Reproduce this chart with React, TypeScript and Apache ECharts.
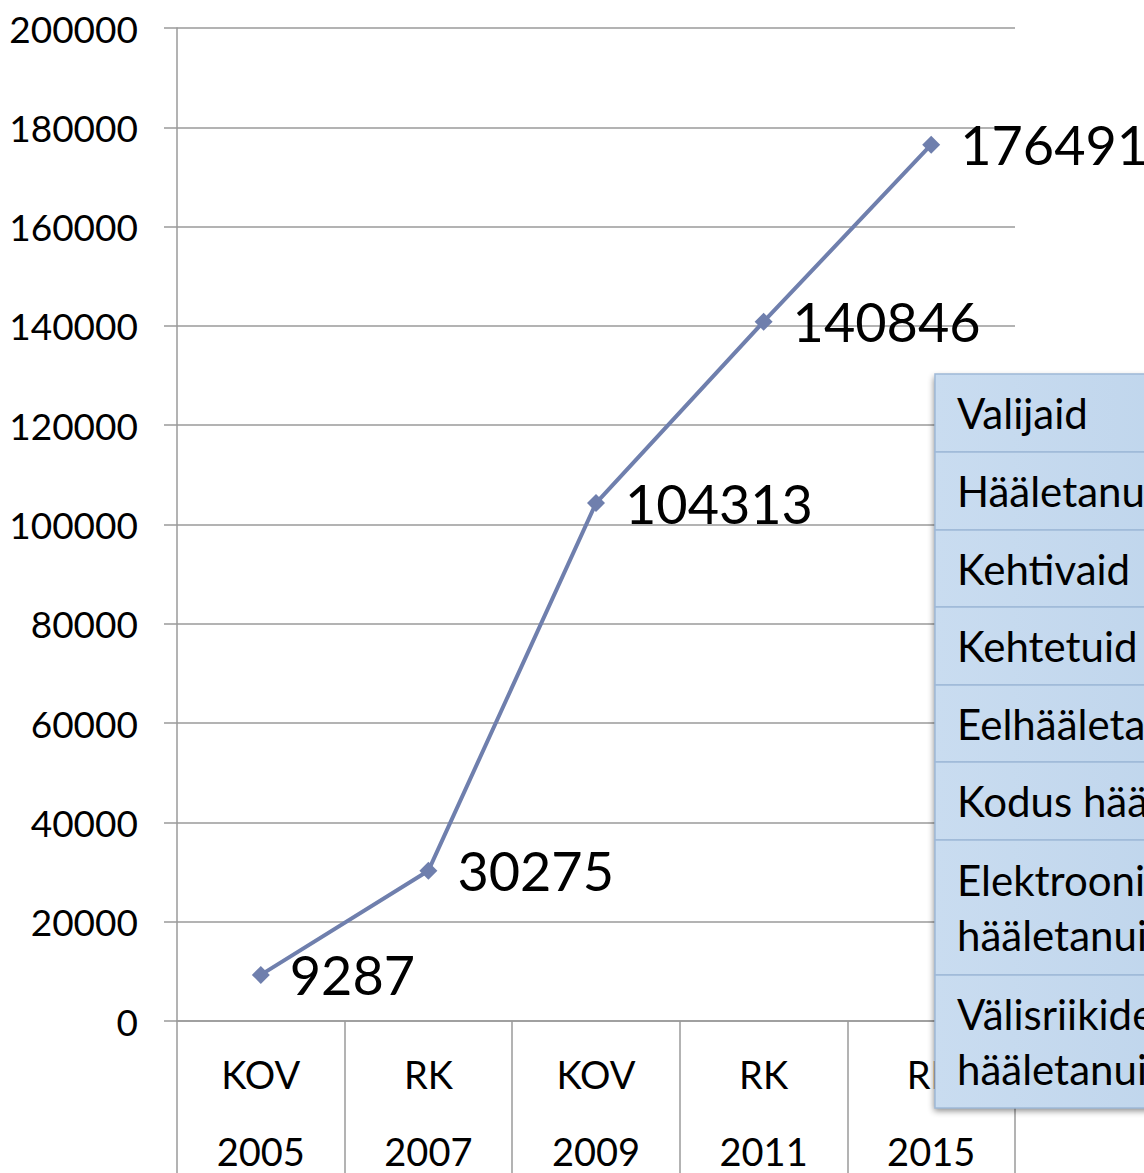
import React, { useEffect, useRef } from "react";
import * as echarts from "echarts";

const categories = ["KOV\n2005", "RK\n2007", "KOV\n2009", "RK\n2011", "RK\n2015"];
const voters = [9287, 30275, 104313, 140846, 176491];
const tableRows = [
  "Valijaid",
  "Hääletanud",
  "Kehtivaid",
  "Kehtetuid",
  "Eelhääletanuid",
  "Kodus hääletanuid",
  "Elektrooniliselt\nhääletanuid",
  "Välisriikides\nhääletanuid",
];
const rowBounds = [374, 452, 530, 607, 685, 762, 840, 975, 1108];

const FONT = "Lato";

export default function App() {
  const ref = useRef<HTMLDivElement>(null);
  useEffect(() => {
    if (!ref.current) return;
    const chart = echarts.init(ref.current, undefined, { renderer: "svg" });
    const tableLeft = 935;
    const tableW = 260;
    const graphics: any[] = [];
    graphics.push({
      type: "rect",
      z: 100,
      shape: { x: tableLeft, y: rowBounds[0], width: tableW, height: rowBounds[rowBounds.length - 1] - rowBounds[0] },
      style: {
        fill: "#c5d9ee",
        shadowBlur: 6,
        shadowColor: "rgba(0,0,0,0.45)",
        shadowOffsetX: -1,
        shadowOffsetY: 3,
      },
    });
    tableRows.forEach((t, i) => {
      const y0 = rowBounds[i];
      const y1 = rowBounds[i + 1];
      graphics.push({
        type: "rect",
        z: 101,
        shape: { x: tableLeft, y: y0, width: tableW, height: y1 - y0 },
        style: {
          fill: new echarts.graphic.LinearGradient(0, 0, 1, 0, [
            { offset: 0, color: "#c9dcf0" },
            { offset: 1, color: "#bfd5ec" },
          ]),
          stroke: "#9fb9d8",
          lineWidth: 1.5,
        },
      });
      graphics.push({
        type: "text",
        z: 102,
        x: 957,
        y: (y0 + y1) / 2,
        style: {
          text: t,
          font: `42px ${FONT}`,
          fill: "#000",
          verticalAlign: "middle",
          align: "left",
          lineHeight: 55,
        },
      });
    });

    chart.setOption({
      animation: false,
      grid: { left: 177, right: 129, top: 28, bottom: 152, outerBoundsMode: "none" },
      xAxis: {
        type: "category",
        data: categories,
        boundaryGap: true,
        axisLine: { show: true, lineStyle: { color: "#9a9a9a", width: 1.5 } },
        axisTick: { show: true, length: 152, interval: 0, lineStyle: { color: "#9a9a9a", width: 1.5 } },
        axisLabel: {
          interval: 0,
          margin: 14,
          fontFamily: FONT,
          fontSize: 38,
          lineHeight: 77,
          color: "#000",
        },
      },
      yAxis: {
        type: "value",
        min: 0,
        max: 200000,
        interval: 20000,
        axisLine: { show: true, lineStyle: { color: "#9a9a9a", width: 1.5 } },
        axisTick: { show: true, length: 13, lineStyle: { color: "#9a9a9a", width: 1.5 } },
        splitLine: { show: true, lineStyle: { color: "#9a9a9a", width: 1.5 } },
        axisLabel: {
          margin: 39,
          fontFamily: FONT,
          fontSize: 37,
          color: "#000",
          formatter: (v: number) => String(v),
        },
      },
      graphic: graphics,
      series: [
        {
          type: "line",
          data: voters,
          symbol: "diamond",
          symbolSize: 18,
          itemStyle: { color: "#6f7fad" },
          lineStyle: { color: "#6f7fad", width: 4 },
          label: {
            show: true,
            position: "right",
            distance: 20,
            fontFamily: FONT,
            fontSize: 54,
            color: "#000",
          },
        },
      ],
    });
    return () => chart.dispose();
  }, []);
  return (
    <div
      ref={ref}
      style={{ position: "absolute", left: 0, top: 0, width: 1144, height: 1173, background: "#fff" }}
    />
  );
}
